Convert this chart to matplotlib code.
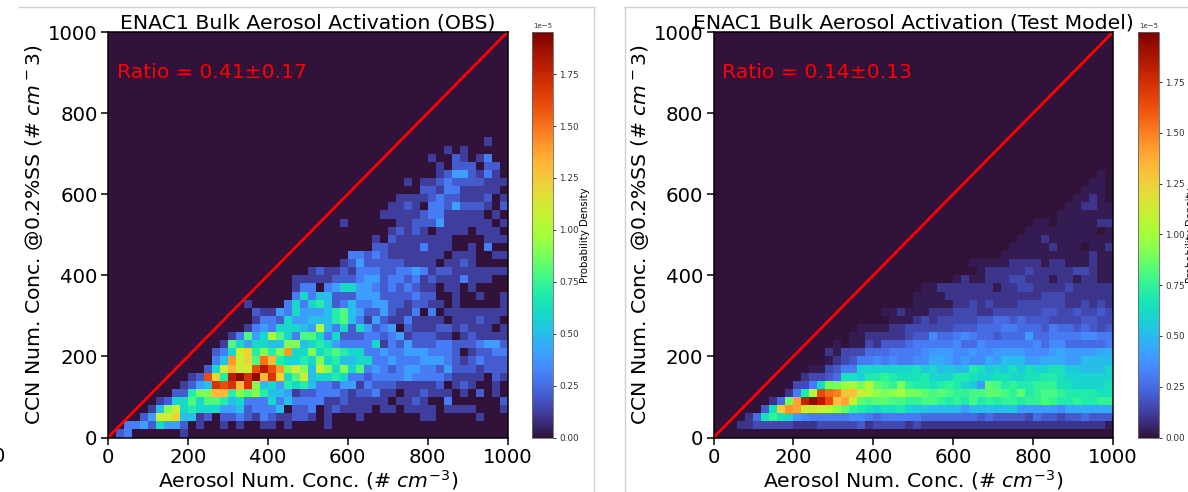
import numpy as np
import matplotlib
matplotlib.use('Agg')
import matplotlib.pyplot as plt
from matplotlib.lines import Line2D

# Each character is one cell, index in LEVELS times the panel's step. Rows go bottom to top.
LEVELS = "0123456789abcdefghijklmnopqrstuvwxyzABCD"

obs_step = 0.1e-5
obs_faint = 0.12e-5  # value of level 1
obs_rows = [
    "0230000001 0000000000 0000000000 0000000000 0000000000",
    "0033426442 0100101001 1010000100 0000000000 0000000000",
    "000024bbc5 5120223213 2112210100 0100000001 1000001000",
    "00000159b6 7666445233 3502230121 1110110111 1011110001",
    "0000001266 8688756333 6353333112 1111101121 0030000002",
    "0000000022 799dd79897 5541223332 1223110112 1110102010",
    "0000000001 245hghdh95 6476753324 4132221111 1201210010",
    "0000000000 12gc7ijhjd hc68b56676 3323333433 3321111021",
    "0000000000 0026bdbbgi ge9b95b969 6834323443 3242221222",
    "0000000000 00035ebc8f d766769675 5663343334 4432123222",
    "0000000000 000236bc79 79e6696787 6633433444 3332012233",
    "0000000000 0000186466 5599567643 3336132422 2332223442",
    "0000000000 0000013846 a863886362 2233234122 2110121111",
    "0000000000 0000000134 366654a536 2642340211 1221211101",
    "0000000000 0000000013 3264455578 5314211311 1101112110",
    "0000000000 0000000021 1436444578 5422421130 3011111111",
    "0000000000 0000000100 0036367523 5334422122 1101000001",
    "0000000000 0000000000 0003635522 2444222232 2001001001",
    "0000000000 0000000000 0001330346 6443232321 1011010000",
    "0000000000 0000000000 0001111122 2344233231 2111311100",
    "0000000000 0000000000 0000012112 1333223343 1221111111",
    "0000000000 0000000000 0000000001 2422222111 1011210000",
    "0000000000 0000000000 0000000000 3323211111 1101110011",
    "0000000000 0000000000 0000000000 0002211113 1110010300",
    "0000000000 0000000000 0000000000 0001021111 1110000111",
    "0000000000 0000000000 0000000000 0000012121 0111101110",
    "0000000000 0000000000 0000000001 0000001122 2411111101",
    "0000000000 0000000000 0000000000 0000111112 3311111010",
    "0000000000 0000000000 0000000000 0000011210 3324222102",
    "0000000000 0000000000 0000000000 0000001111 2322111201",
    "0000000000 0000000000 0000000000 0000000002 2133111110",
    "0000000000 0000000000 0000000000 0000000101 1232222111",
    "0000000000 0000000000 0000000000 0000000000 0124421310",
    "0000000000 0000000000 0000000000 0000000000 0102220220",
    "0000000000 0000000000 0000000000 0000000000 1002101300",
    "0000000000 0000000000 0000000000 0000000000 0010100000",
    "0000000000 0000000000 0000000000 0000000000 0000000100",
]

model_step = 0.05e-5
model_faint = 0.03e-5  # value of level 1
model_rows = [
    "0000000000 0000000000 0000000000 0000000000 0000000000",
    "0002233333 2223333342 3333232222 2222222222 2222222221",
    "000025dfdc 8766666776 5666665555 5554544443 5443445444",
    "0000004dpt snnmljhfed cddecbbaaa a8aaaaab88 8887999999",
    "000000025i sADBxqsmhg hhggffggfe fegefeffef fgfeefeeff",
    "0000000002 6elxvuqqml jijkiihghg ffgghhgfhe fggfeeeedd",
    "0000000000 336ciikkil hgfifeedef ecb8hgefee fffddccccd",
    "0000000000 023345ddce efedddeccc eedccddccd deedcccccc",
    "0000000000 00113466cc cccccdbcab aaedbcbdbd ccddbbaaac",
    "0000000000 0000123466 7676677998 787798aaa8 899988aaaa",
    "0000000000 0000213335 5566667888 7787788887 7789888899",
    "0000000000 0000010113 2444566666 7557666666 7577555556",
    "0000000000 0000000112 2222344755 6765545558 5566667766",
    "0000000000 0000000011 1122333333 4445556655 5465545434",
    "0000000000 0000000000 0011123233 3334455454 4433334433",
    "0000000000 0000000000 0112111222 3332233333 3443343343",
    "0000000000 0000000000 0000011111 2232322233 3333223232",
    "0000000000 0000000000 0000011112 2222222222 2333222222",
    "0000000000 0000000000 0000001122 2222212233 2222322222",
    "0000000000 0000000000 0000000000 1211222332 2212212211",
    "0000000000 0000000000 0000000000 0001222223 2222233211",
    "0000000000 0000000000 0000000000 0011111222 2122111211",
    "0000000000 0000000000 0000000000 0000001111 1111111211",
    "0000000000 0000000000 0000000000 0000000111 1121110112",
    "0000000000 0000000000 0000000000 0000000011 1211111111",
    "0000000000 0000000000 0000000000 0000000001 1111111101",
    "0000000000 0000000000 0000000000 0000000000 1101111122",
    "0000000000 0000000000 0000000000 0000000000 0001111111",
    "0000000000 0000000000 0000000000 0000000000 0000112211",
    "0000000000 0000000000 0000000000 0000000000 0000011210",
    "0000000000 0000000000 0000000000 0000000000 0000001110",
    "0000000000 0000000000 0000000000 0000000000 0000000110",
    "0000000000 0000000000 0000000000 0000000000 0000000010",
]

obs_ratio = "Ratio = 0.41±0.17"
model_ratio = "Ratio = 0.14±0.13"
obs_title = "ENAC1 Bulk Aerosol Activation (OBS)"
model_title = "ENAC1 Bulk Aerosol Activation (Test Model)"
axis_ticks = [0, 200, 400, 600, 800, 1000]
cbar_ticks = [0, 0.25e-5, 0.5e-5, 0.75e-5, 1.0e-5, 1.25e-5, 1.5e-5, 1.75e-5]


def to_grid(rows, step, faint):
    grid = np.zeros((50, 50))
    for i, row in enumerate(rows):
        cells = row.replace(" ", "")
        grid[i] = [faint if c == "1" else LEVELS.index(c) * step for c in cells]
    return grid


W, H = 1188, 492
fig = plt.figure(figsize=(W / 100, H / 100), dpi=100)


def px_axes(x0, x1, y0, y1):
    # pixel box from the top-left corner to figure fractions
    return fig.add_axes([x0 / W, 1 - y1 / H, (x1 - x0) / W, (y1 - y0) / H])


def draw_panel(x0, cx0, grid, vmax, title, ratio):
    ax = px_axes(x0, x0 + 399.5, 32, 437.5)
    edges = np.linspace(0, 1000, 51)
    mesh = ax.pcolormesh(edges, edges, grid, cmap='turbo', vmin=0, vmax=vmax)
    ax.plot([0, 1000], [0, 1000], color='red', lw=2)
    ax.set_xlim(0, 1000)
    ax.set_ylim(0, 1000)
    ax.set_xticks(axis_ticks)
    ax.set_yticks(axis_ticks)
    ax.tick_params(labelsize=14.2, length=5, width=1.1, pad=2.5)
    for s in ax.spines.values():
        s.set_linewidth(1.1)
    ax.set_title(title, fontsize=14.65, pad=1.8)
    ax.set_xlabel(r"Aerosol Num. Conc. (# $cm^{-3}$)", fontsize=14.65, labelpad=1)
    ax.set_ylabel(r"CCN Num. Conc. @0.2%SS (# $cm^-3$)", fontsize=14.65, labelpad=2)
    ax.text(0.022, 0.9, ratio, transform=ax.transAxes, color='red', fontsize=14.7, va='center')

    cax = px_axes(cx0, cx0 + 20.5, 32, 437.5)
    cb = fig.colorbar(mesh, cax=cax)
    cb.set_ticks(cbar_ticks)
    cb.ax.tick_params(labelsize=6.4, length=2.5, width=0.7, pad=2.5, colors='#333333')
    cb.ax.yaxis.get_offset_text().set_fontsize(5)
    cb.outline.set_linewidth(0.6)
    cb.outline.set_edgecolor('#666666')
    cb.set_label("Probability Density", fontsize=7.25, labelpad=0.5)
    return ax


draw_panel(108, 532, to_grid(obs_rows, obs_step, obs_faint), 1.953e-5, obs_title, obs_ratio)
draw_panel(713.5, 1138, to_grid(model_rows, model_step, model_faint), 1.997e-5, model_title, model_ratio)

# grey frames left around each panel
frame = '#d0d0d0'
for xs, ys in [([19, 594], [7, 7]), ([594, 594], [7, 492]), ([624.5, 1188], [7, 7]), ([624.5, 624.5], [7, 492])]:
    fig.add_artist(Line2D([x / W for x in xs], [1 - y / H for y in ys], color=frame, lw=1))

# clipped tick label from the panel further left
fig.text(5.5 / W, 1 - 457 / H, "0", fontsize=14.2, ha='right', va='center')

fig.savefig('out.png', dpi=100)
